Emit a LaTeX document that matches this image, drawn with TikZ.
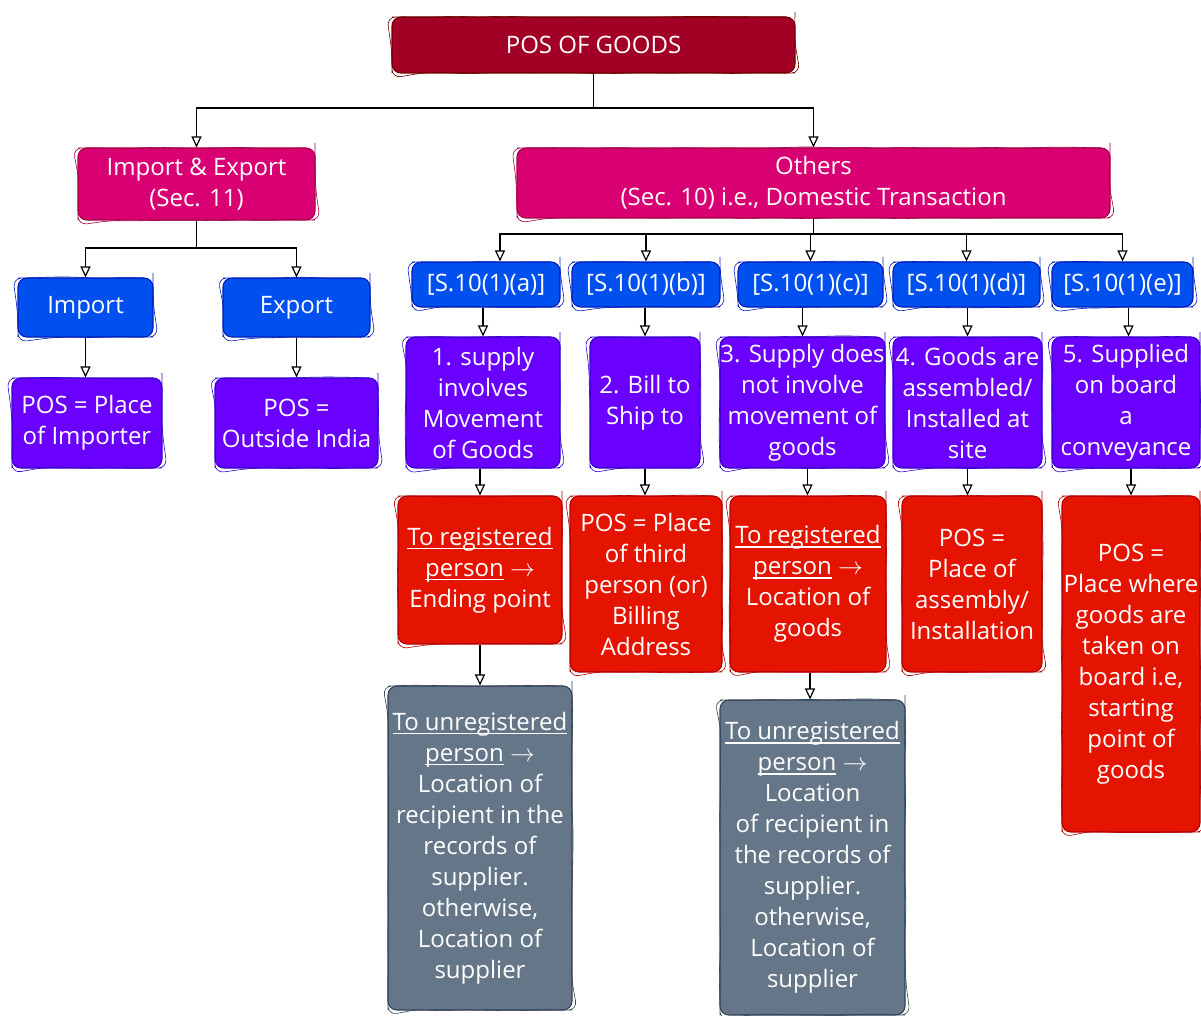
\documentclass[tikz,border=0pt]{standalone}
\usepackage{fontspec}
\setmainfont{Open Sans}
\usetikzlibrary{arrows.meta,decorations.pathmorphing}

% underline drawn just under the baseline, ignoring descenders
\newcommand\lowline[1]{\setbox0\hbox{#1}\rlap{\rule[-4pt]{\wd0}{1.3pt}}\box0\relax}

% fill / stroke pairs
\definecolor{crimF}{HTML}{A20025}\definecolor{crimS}{HTML}{6F0000}
\definecolor{magF}{HTML}{D80073}\definecolor{magS}{HTML}{A50040}
\definecolor{cobF}{HTML}{0050EF}\definecolor{cobS}{HTML}{001DBC}
\definecolor{indF}{HTML}{6A00FF}\definecolor{indS}{HTML}{3700CC}
\definecolor{redF}{HTML}{E51400}\definecolor{redS}{HTML}{B20000}
\definecolor{slaF}{HTML}{647687}\definecolor{slaS}{HTML}{314354}

\tikzset{
  box/.style={rounded corners=9pt, line width=1.1pt, text=white, align=center,
    inner sep=0pt, font=\fontsize{24}{31}\selectfont,
    postaction={draw, line width=0.6pt, decorate,
      decoration={random steps, segment length=22pt, amplitude=1.1pt}}},
  crim/.style={box, fill=crimF, draw=crimS},
  mag/.style={box, fill=magF, draw=magS},
  cob/.style={box, fill=cobF, draw=cobS},
  ind/.style={box, fill=indF, draw=indS},
  rd/.style={box, fill=redF, draw=redS},
  sla/.style={box, fill=slaF, draw=slaS},
  sz/.style 2 args={minimum width=#1pt, minimum height=#2pt},
  arr/.style={draw=black, line width=1.4pt,
    -{Triangle[open, length=11pt, width=10pt, line width=1.2pt]}}
}

\begin{document}
\begin{tikzpicture}[x=1pt, y=-1pt]
\pgfmathsetseed{11}
\useasboundingbox (0,0) rectangle (1201,1016);

% top level
\node[crim, sz={403}{56}] (title) at (593.5,45) {POS OF GOODS};
\node[mag, sz={237}{72}] (ie) at (196.5,184) {Import \& Export\\(Sec. 11)};
\node[mag, sz={593}{70}] (oth) at (813.5,183) {Others\\(Sec. 10) i.e., Domestic Transaction};

% import / export branch
\node[cob, sz={135}{59}] (imp) at (85.5,307.5) {Import};
\node[cob, sz={147}{59}] (exp) at (296.5,307.5) {Export};
\node[ind, sz={150}{90}] (pimp) at (87,423) {POS = Place\\of Importer};
\node[ind, sz={163}{90}] (pexp) at (296.5,423) {POS =\\Outside India};

% section 10 clauses
\node[cob, sz={148}{45}] (sa) at (486,284.5) {[S.10(1)(a)]};
\node[cob, sz={148}{45}] (sb) at (646,284.5) {[S.10(1)(b)]};
\node[cob, sz={145}{45}] (sc) at (810.5,284.5) {[S.10(1)(c)]};
\node[cob, sz={147}{45}] (sd) at (966.5,284.5) {[S.10(1)(d)]};
\node[cob, sz={141}{45}] (se) at (1122.5,284.5) {[S.10(1)(e)]};

\node[ind, sz={154}{131}] (pa) at (483,402.5) {1. supply\\involves\\Movement\\of Goods};
\node[ind, sz={110}{131}] (pb) at (645,402.5) {2. Bill to\\Ship to};
\node[ind, sz={165}{131}] (pc) at (802.5,402.5) {3. Supply does\\not involve\\movement of\\goods};
\node[ind, sz={149}{131}] (pd) at (967.5,402.5) {4. Goods are\\assembled/\\Installed at\\site};
\node[ind, sz={148}{131}] (pe) at (1126,402.5) {5. Supplied\\on board\\a\\conveyance};

\node[rd, sz={164}{148}] (ra) at (480,570) {\lowline{To registered}\\\lowline{person} $\rightarrow$\\Ending point};
\node[rd, sz={152}{176}] (rb) at (646,584) {POS = Place\\of third\\person (or)\\Billing\\Address};
\node[rd, sz={156}{176}] (rc) at (808,584) {\lowline{To registered}\\\lowline{person} $\rightarrow$\\Location of\\goods};
\node[rd, sz={140}{176}] (rdd) at (972,584) {POS =\\Place of\\assembly/\\Installation};
\node[rd, sz={138}{336}] (re) at (1131,664) {POS =\\Place where\\goods are\\taken on\\board i.e,\\starting\\point of\\goods};

\node[sla, sz={184}{324}] (ga) at (480,848) {\lowline{To unregistered}\\\lowline{person} $\rightarrow$\\Location of\\recipient in the\\records of\\supplier.\\otherwise,\\Location of\\supplier};
\node[sla, sz={185}{315}] (gb) at (812.5,857.5) {\lowline{To unregistered}\\\lowline{person} $\rightarrow$\\Location\\of recipient in\\the records of\\supplier.\\otherwise,\\Location of\\supplier};

% tree connectors
\coordinate (bus0) at (0,108);
\coordinate (bus1) at (0,248);
\coordinate (bus2) at (0,234);

\draw[arr] (title.south) -- (title.south |- bus0) -| (ie.north);
\draw[arr] (title.south) -- (title.south |- bus0) -| (oth.north);

\draw[arr] (ie.south) -- (ie.south |- bus1) -| (imp.north);
\draw[arr] (ie.south) -- (ie.south |- bus1) -| (exp.north);
\draw[arr] (imp.south) -- (pimp.north -| imp.south);
\draw[arr] (exp.south) -- (pexp.north -| exp.south);

\draw[arr] (oth.south) -- (oth.south |- bus2) -| ([xshift=14pt]sa.north);
\draw[arr] (oth.south) -- (oth.south |- bus2) -| (sb.north);
\draw[arr] (oth.south) -- (oth.south |- bus2) -| (sc.north);
\draw[arr] (oth.south) -- (oth.south |- bus2) -| (sd.north);
\draw[arr] (oth.south) -- (oth.south |- bus2) -| (se.north);

\draw[arr] (pa.north |- sa.south) -- (pa.north);
\draw[arr] (pb.north |- sb.south) -- (pb.north);
\draw[arr] ([xshift=-8pt]sc.south) -- ([xshift=-8pt]sc.south |- pc.north);
\draw[arr] (pd.north |- sd.south) -- (pd.north);
\draw[arr] ([xshift=6pt]se.south) -- ([xshift=6pt]se.south |- pe.north);

\draw[arr] (ra.north |- pa.south) -- (ra.north);
\draw[arr] (pb.south) -- (pb.south |- rb.north);
\draw[arr] ([xshift=5pt]pc.south) -- ([xshift=5pt]pc.south |- rc.north);
\draw[arr] (pd.south) -- (pd.south |- rdd.north);
\draw[arr] (re.north |- pe.south) -- (re.north);

\draw[arr] (ra.south) -- (ga.north);
\draw[arr] ([xshift=2pt]rc.south) -- ([xshift=2pt]rc.south |- gb.north);
\end{tikzpicture}
\end{document}
